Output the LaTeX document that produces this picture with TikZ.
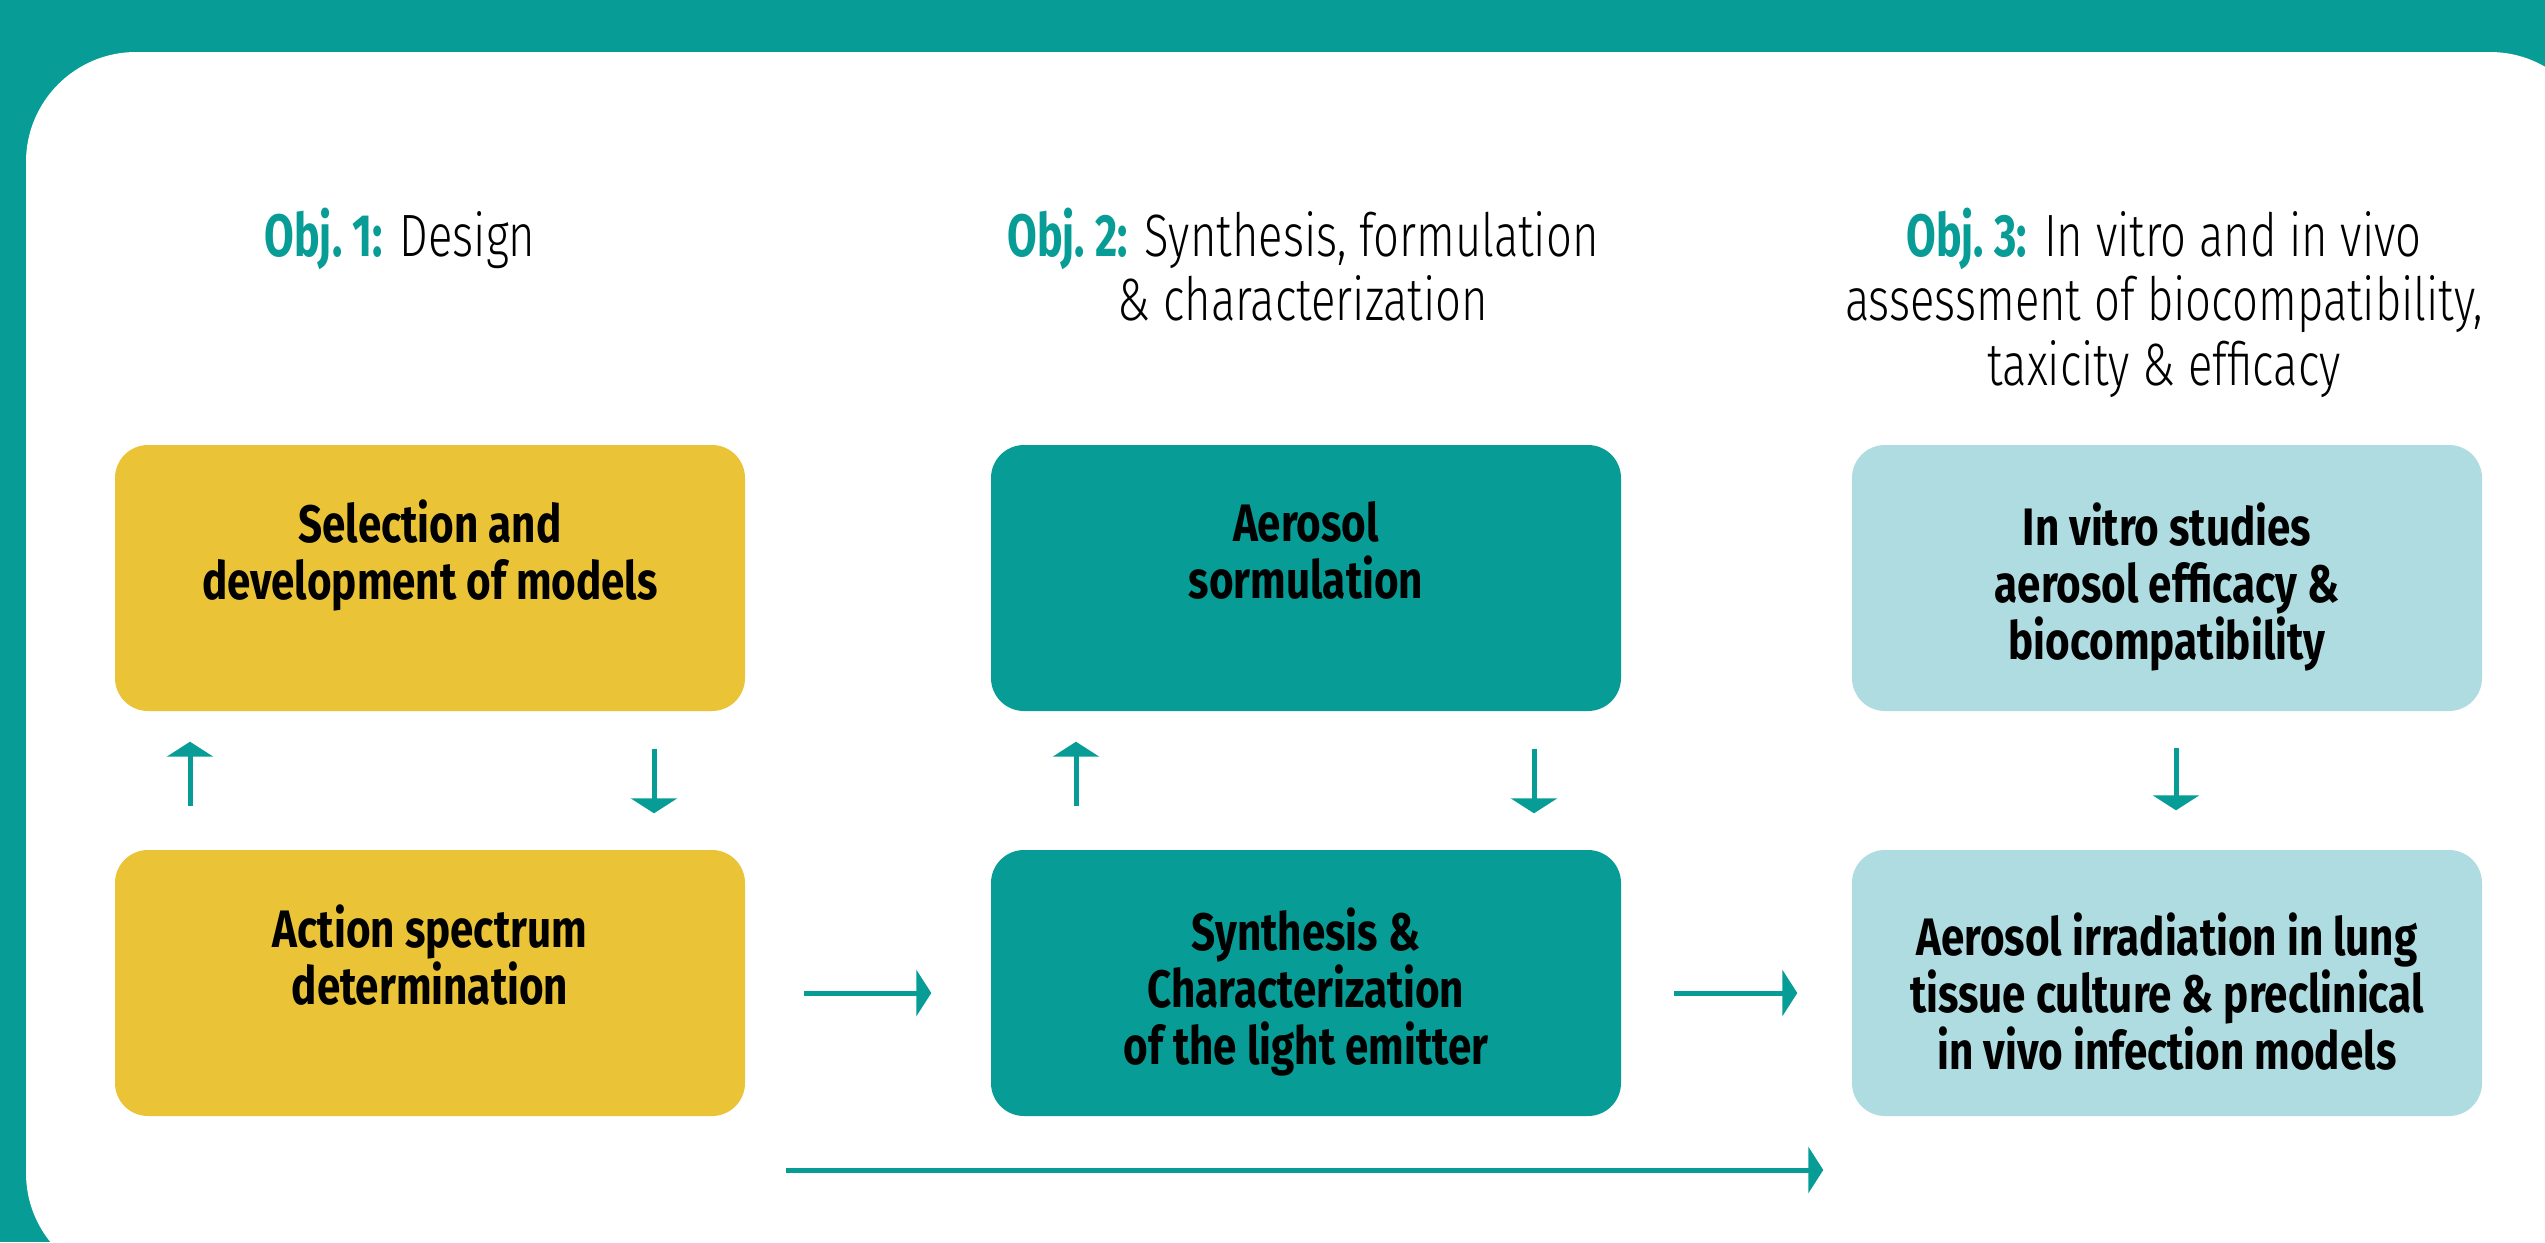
\documentclass[tikz,border=0pt]{standalone}
\usepackage{fontspec}
\setmainfont{Fira Sans}[FakeStretch=0.8]
\newfontfamily\lightfont{Fira Sans Light}[FakeStretch=0.76]
\newfontfamily\tagfont{Fira Sans}[FakeStretch=0.72]
\usetikzlibrary{arrows.meta,positioning}
\definecolor{objteal}{HTML}{079D96}
\definecolor{objyellow}{HTML}{EBC337}
\definecolor{objblue}{HTML}{AFDCE1}
\tikzstyle{stage}=[rounded corners=3.3mm, minimum width=63mm, minimum height=26.6mm
,align=center, inner sep=0pt
,font=\bfseries\fontsize{15}{16.2}\selectfont
]
\tikzstyle{heading}=[align=center, anchor=north, inner sep=0pt
,font=\lightfont\fontsize{17}{18.4}\selectfont
]
\tikzstyle{flow}=[draw=objteal, line width=0.5mm, -{Triangle[width=4.6mm,length=1.5mm]}]
\newcommand{\objtag}[1]{{\tagfont\bfseries\color{objteal}Obj.~#1:}}
\newcommand{\topline}{\rule{0pt}{6mm}}

\begin{document}
\begin{tikzpicture}[x=0.1mm,y=-0.1mm]
    % Frame
    \useasboundingbox (0,0) rectangle (2545,1242);
    \clip (0,0) rectangle (2545,1242);
    \fill[objteal] (0,0) rectangle (2545,1242);
    \fill[white, rounded corners=11mm] (26,52) rectangle (2600,1283);

    % Objectives
    \node[heading] (h1) at (400,207) {\objtag{1} Design};
    \node[heading] (h2) at (1303,207) {\objtag{2} Synthesis, formulation\\\& characterization};
    \node[heading] (h3) at (2164,207) {\objtag{3} In vitro and in vivo\\assessment of biocompatibility,\\taxicity \& efficacy};

    % Boxes of the three columns
    \foreach \pos/\name/\col/\txt in {
        {(430,578)/models/objyellow/Selection and\\development of models\\~},
        {(430,983)/spectrum/objyellow/Action spectrum\\determination\\~},
        {(1306,578)/aerosol/objteal/Aerosol\\sormulation\\~},
        {(1306,983)/emitter/objteal/\topline Synthesis \&\\Characterization\\of the light emitter},
        {(2167,578)/invitro/objblue/\topline In vitro studies\\aerosol efficacy \&\\biocompatibility},
        {(2167,983)/irradiation/objblue/\topline Aerosol irradiation in lung\\tissue culture \& preclinical\\in vivo infection models}}
        \node[stage, fill=\col] (\name) at \pos {\txt};

    % Arrows inside the columns
    \draw[flow, shorten <=4.3mm, shorten >=3mm] ([xshift=-24mm]spectrum.north) -- ([xshift=-24mm]models.south);
    \draw[flow, shorten <=3.7mm, shorten >=3.6mm] ([xshift=22.4mm]models.south) -- ([xshift=22.4mm]spectrum.north);
    \draw[flow, shorten <=4.3mm, shorten >=3mm] ([xshift=-23mm]emitter.north) -- ([xshift=-23mm]aerosol.south);
    \draw[flow, shorten <=3.7mm, shorten >=3.6mm] ([xshift=22.8mm]aerosol.south) -- ([xshift=22.8mm]emitter.north);
    \draw[flow, shorten <=3.6mm, shorten >=3.9mm] ([xshift=0.9mm]invitro.south) -- ([xshift=0.9mm]irradiation.north);

    % Arrows between the columns
    \draw[flow, shorten <=5.8mm, shorten >=5.9mm] ([yshift=-1mm]spectrum.east) -- ([yshift=-1mm]emitter.west);
    \draw[flow, shorten <=5.2mm, shorten >=5.4mm] ([yshift=-1mm]emitter.east) -- ([yshift=-1mm]irradiation.west);
    \coordinate (longstart) at (786,1170);
    \draw[flow, shorten >=2.8mm] (longstart) -- (longstart -| irradiation.west);
\end{tikzpicture}
\end{document}
